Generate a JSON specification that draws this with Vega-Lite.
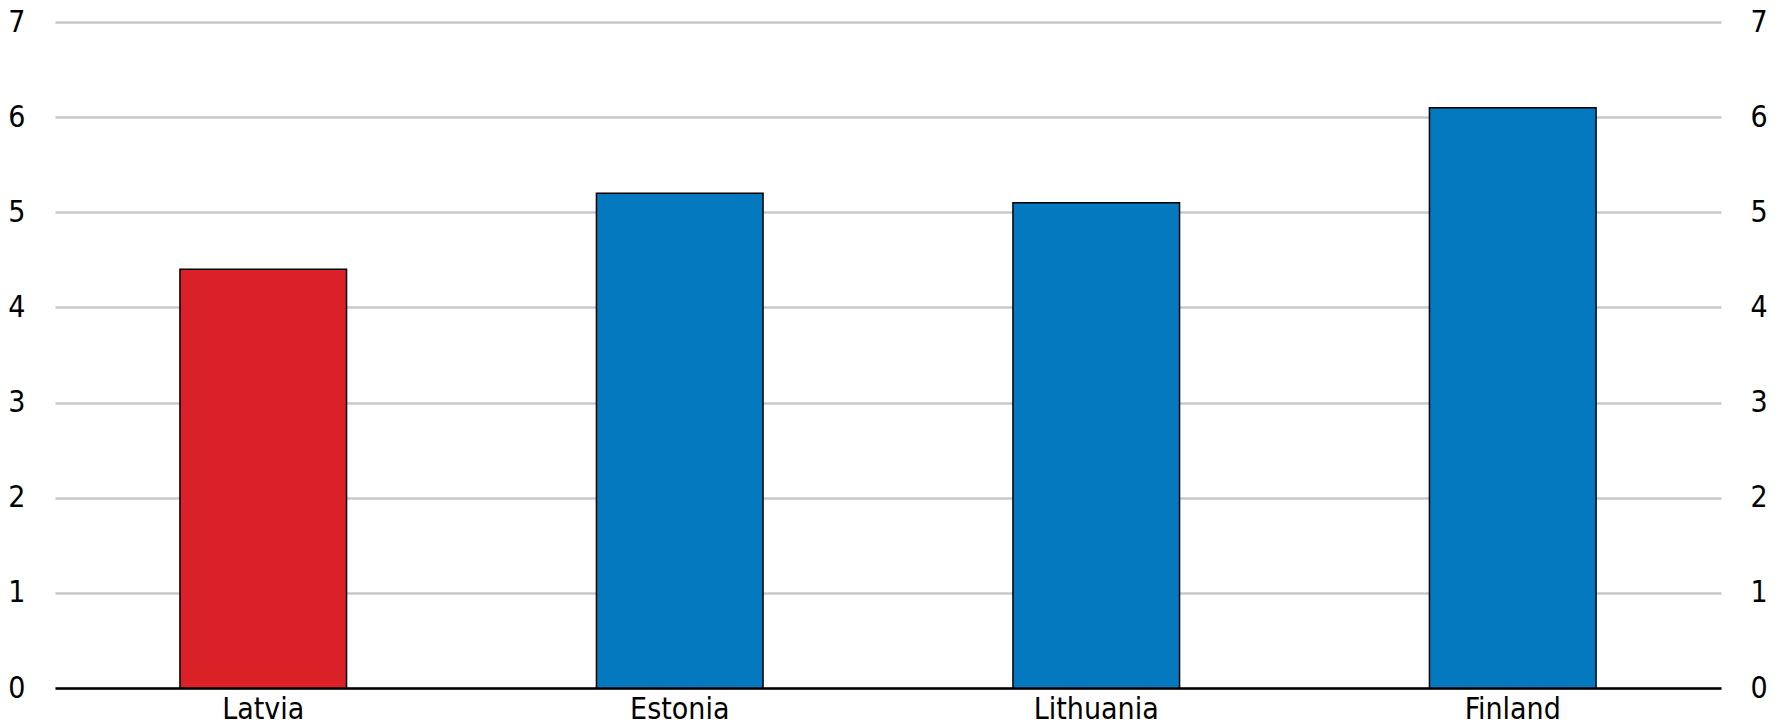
{
  "$schema": "https://vega.github.io/schema/vega-lite/v6.json",
  "autosize": "none",
  "width": 1666,
  "height": 666,
  "padding": {"left": 55, "top": 22, "right": 57, "bottom": 40},
  "background": "white",
  "config": {
    "view": {"stroke": null},
    "font": "Liberation Sans Narrow, DejaVu Sans Condensed, sans-serif"
  },
  "data": {
    "values": [
      {"country": "Latvia", "value": 4.4, "group": "Latvia"},
      {"country": "Estonia", "value": 5.2, "group": "Other"},
      {"country": "Lithuania", "value": 5.1, "group": "Other"},
      {"country": "Finland", "value": 6.1, "group": "Other"}
    ]
  },
  "layer": [
    {
      "mark": {"type": "bar", "stroke": "#000000", "strokeWidth": 1.5},
      "encoding": {
        "x": {
          "field": "country", "type": "nominal", "sort": null,
          "scale": {"paddingInner": 0.6, "paddingOuter": 0.3},
          "axis": {
            "title": null, "labelAngle": 0, "ticks": false,
            "domainColor": "#000000", "domainWidth": 2.5,
            "labelFontSize": 30, "labelColor": "#000000", "labelPadding": 6
          }
        },
        "y": {
          "field": "value", "type": "quantitative",
          "scale": {"domain": [0, 7]},
          "axis": {
            "orient": "left", "title": null, "values": [0,1,2,3,4,5,6,7],
            "domain": false, "ticks": false, "grid": true,
            "gridColor": "#c8c8c8", "gridWidth": 2.5,
            "labelFontSize": 30, "labelColor": "#000000", "labelPadding": 30
          }
        },
        "color": {
          "field": "group", "type": "nominal",
          "scale": {"domain": ["Latvia", "Other"], "range": ["#DA2128", "#0479BF"]},
          "legend": null
        }
      }
    },
    {
      "mark": {"type": "bar", "opacity": 0},
      "encoding": {
        "x": {"field": "country", "type": "nominal", "sort": null},
        "y": {
          "field": "value", "type": "quantitative",
          "scale": {"domain": [0, 7]},
          "axis": {
            "orient": "right", "title": null, "values": [0,1,2,3,4,5,6,7],
            "domain": false, "ticks": false, "grid": false,
            "labelFontSize": 30, "labelColor": "#000000", "labelPadding": 29
          }
        }
      }
    }
  ],
  "resolve": {"axis": {"y": "independent"}}
}
